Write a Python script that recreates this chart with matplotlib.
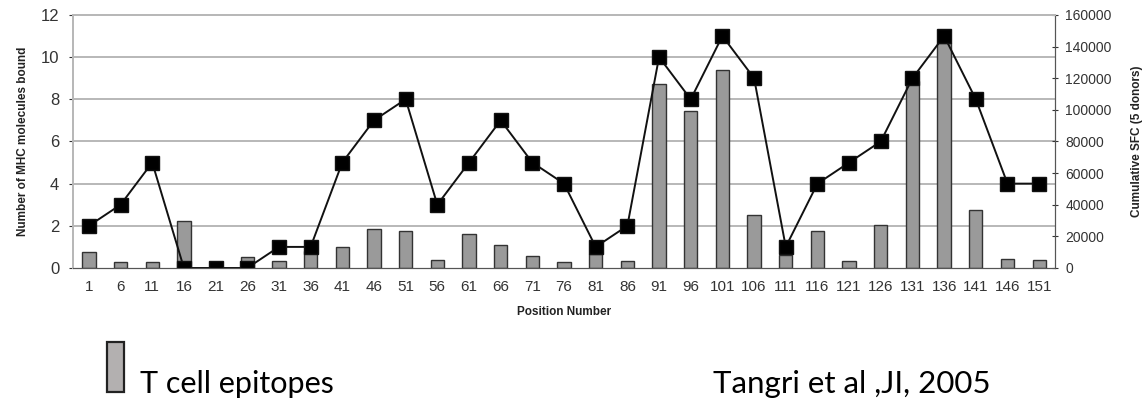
import matplotlib
matplotlib.use("Agg")
import matplotlib.pyplot as plt
from matplotlib.patches import Rectangle

# position numbers along the protein
positions = [1, 6, 11, 16, 21, 26, 31, 36, 41, 46, 51, 56, 61, 66, 71, 76,
             81, 86, 91, 96, 101, 106, 111, 116, 121, 126, 131, 136, 141, 146, 151]
# number of MHC molecules bound (line, left axis)
mhc_bound = [2, 3, 5, 0, 0, 0, 1, 1, 5, 7, 8, 3, 5, 7, 5, 4,
             1, 2, 10, 8, 11, 9, 1, 4, 5, 6, 9, 11, 8, 4, 4]
# cumulative SFC, 5 donors (bars, right axis)
sfc = [10100, 3800, 3800, 29700, 0, 7000, 4200, 11000, 13300, 24400, 23400, 5300,
       21500, 14300, 7800, 4000, 9000, 4600, 116400, 99100, 125300, 33300,
       8000, 23200, 4200, 27000, 118000, 142000, 36900, 5900, 5300]

left_ticks = [0, 2, 4, 6, 8, 10, 12]
right_ticks = [0, 20000, 40000, 60000, 80000, 100000, 120000, 140000, 160000]

TICK = "#333333"
GRID = "#b8b8b8"
plt.rcParams["font.family"] = ["Liberation Sans", "DejaVu Sans"]

fig = plt.figure(figsize=(11.45, 4.03), dpi=100)
ax = fig.add_axes([0.0638, 0.335, 0.8576, 0.628])
ax2 = ax.twinx()
idx = list(range(len(positions)))

# bars sit under the line
ax2.set_zorder(1)
ax.set_zorder(2)
ax.patch.set_visible(False)

ax2.bar(idx, sfc, width=0.42, color="#9a9a9a", edgecolor="#333333", linewidth=1.0)
ax2.set_ylim(0, 160000)
ax2.set_yticks(right_ticks)
ax2.tick_params(axis="y", labelsize=10, colors=TICK, length=5, direction="inout", pad=5)
ax2.set_ylabel("Cumulative SFC (5 donors)", fontsize=8.5, fontweight="bold", color="#222222", labelpad=14)

for y in left_ticks[1:]:
    ax2.axhline(y / 12 * 160000, color=GRID, lw=1.4, zorder=0)

ax.plot(idx, mhc_bound, color="#111111", lw=1.4, marker="s", markersize=9.5,
        markerfacecolor="black", markeredgecolor="#111111")
ax.set_xlim(-0.5, len(positions) - 0.5)
ax.set_ylim(0, 12)
ax.set_yticks(left_ticks)
ax.set_xticks(idx)
ax.set_xticklabels([str(p) for p in positions])
ax.tick_params(axis="y", labelsize=12, colors=TICK, length=3, pad=7)
ax.tick_params(axis="x", labelsize=11, colors=TICK, length=0, pad=9)
ax.set_ylabel("Number of MHC molecules bound", fontsize=8.5, fontweight="bold", color="#222222", labelpad=8)
ax.set_xlabel("Position Number", fontsize=8.5, fontweight="bold", color="#222222", labelpad=8)

for a in (ax, ax2):
    a.spines["top"].set_color(GRID)
    a.spines["top"].set_linewidth(1.4)
    a.spines["left"].set_color(GRID)
    a.spines["left"].set_linewidth(1.4)
    a.spines["bottom"].set_color("#555555")
    a.spines["right"].set_color("#555555")

# legend-like annotation below the chart
fig.patches.append(Rectangle((107 / 1145, 1 - 392 / 403), 17 / 1145, 50 / 403,
                             transform=fig.transFigure, facecolor="#b3b0b0",
                             edgecolor="#222222", linewidth=1.6))
fig.text(140 / 1145, 1 - 393 / 403, "T cell epitopes", fontsize=22, family="Lato",
         ha="left", va="baseline", color="black")
fig.text(713 / 1145, 1 - 393 / 403, "Tangri et al ,JI, 2005", fontsize=22.5, family="Lato",
         ha="left", va="baseline", color="black")

fig.savefig("out.png", dpi=100)
